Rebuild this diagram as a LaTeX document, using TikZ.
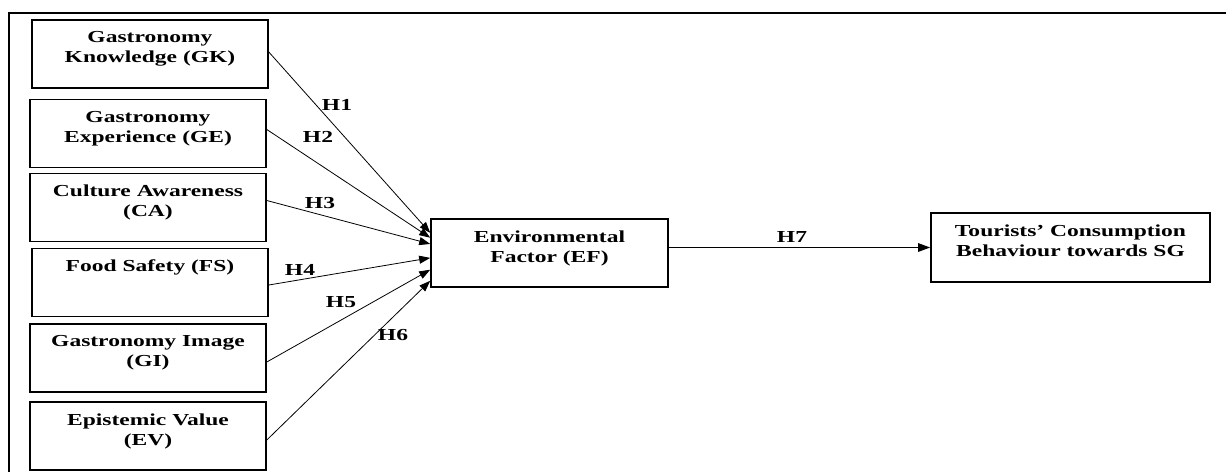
\documentclass[tikz,border=0pt]{standalone}
\usepackage{fontspec}
\setmainfont{Liberation Serif}[FakeStretch=1.4]
\usepackage{tikz}
\usetikzlibrary{arrows.meta,calc}

\tikzset{
  factor/.style={draw, line width=1.6pt, minimum height=68pt, inner sep=0pt},
  caption/.style={anchor=north, yshift=-12pt, align=center, inner sep=0pt, font=\bfseries},
  path/.style={line width=0.8pt, -{Triangle[length=11pt,width=8pt]}},
  hyp/.style={font=\bfseries, inner sep=0pt}
}

\begin{document}
\begin{tikzpicture}[x=1pt, y=-1pt]
			\fontsize{16.8}{20}\selectfont
			\path[use as bounding box] (0,0) rectangle (1226,472);
			% open frame round the model
			\draw[line width=1.8pt] (9,472) -- (9,13) -- (1226,13);
			% the six antecedents
			\node[factor, minimum width=236pt, label={[caption]north:Gastronomy\\Knowledge (GK)}] (gk) at (150,54) {};
			\node[factor, minimum width=236pt, label={[caption]north:Gastronomy\\Experience (GE)}] (ge) at (148,133.5) {};
			\node[factor, minimum width=236pt, label={[caption]north:Culture Awareness\\(CA)}] (ca) at (148,207.5) {};
			\node[factor, minimum width=236pt, label={[caption]north:Food Safety (FS)}] (fs) at (150,282.5) {};
			\node[factor, minimum width=236pt, label={[caption]north:Gastronomy Image\\(GI)}] (gi) at (148,358) {};
			\node[factor, minimum width=236pt, label={[caption]north:Epistemic Value\\(EV)}] (ev) at (148,436) {};
			% mediator and outcome
			\node[factor, minimum width=237pt, label={[caption]north:Environmental\\Factor (EF)}] (ef) at (549.5,253) {};
			\node[factor, minimum width=279pt, minimum height=69pt, label={[caption]north:Tourists' Consumption\\Behaviour towards SG}] (tc) at (1070.5,247.5) {};
			% hypotheses H1 to H6
			\draw[path] ([yshift=2pt]gk.east) -- ($(ef.north west)!0.21!(ef.south west)$);
			\draw[path] ([yshift=4pt]ge.east) -- ($(ef.north west)!0.28!(ef.south west)$);
			\draw[path] ([yshift=7pt]ca.east) -- ($(ef.north west)!0.37!(ef.south west)$);
			\draw[path] ([yshift=-2.5pt]fs.east) -- ($(ef.north west)!0.57!(ef.south west)$);
			\draw[path] ([yshift=-4pt]gi.east) -- ($(ef.north west)!0.74!(ef.south west)$);
			\draw[path] ([yshift=-4pt]ev.east) -- ($(ef.north west)!0.90!(ef.south west)$);
			\node[hyp] (h1) at (337,105) {H1};
			\node[hyp] (h2) at (318,137) {H2};
			\node[hyp] (h3) at (320,203) {H3};
			\node[hyp] (h4) at (300,270) {H4};
			\node[hyp] (h5) at (341,302) {H5};
			\node[hyp] (h6) at (393,335) {H6};
			% H7
			\draw[line width=1.1pt, -{Triangle[length=12pt,width=8.5pt]}] (ef.east |- tc.west) -- (tc.west);
			\node[hyp] (h7) at (792,237) {H7};
		\end{tikzpicture}
\end{document}
